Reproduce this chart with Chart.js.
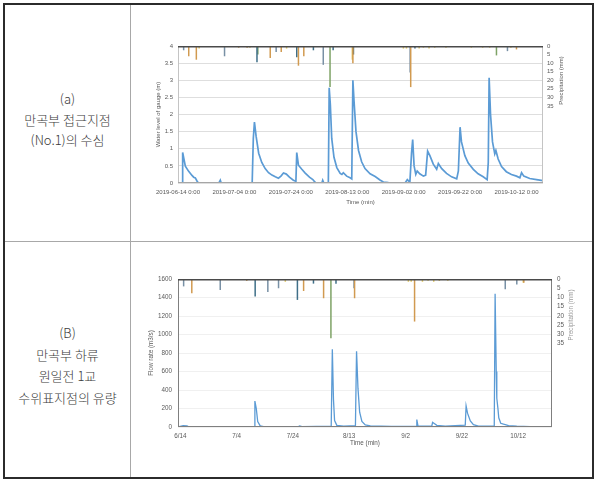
<!DOCTYPE html>
<html><head><meta charset="utf-8">
<script src="https://cdn.jsdelivr.net/npm/chart.js@4/dist/chart.umd.min.js"></script>
<style>
html,body{margin:0;padding:0;background:#fff;}
body{width:600px;height:486px;position:relative;overflow:hidden;font-family:"Noto Sans CJK KR","Noto Sans",sans-serif;}
#frame{position:absolute;left:3px;top:3px;width:587px;height:472px;border:2px solid #2b2b2b;}
.vline{position:absolute;left:130px;top:5px;width:1px;height:472px;background:#a8a8a8;}
.hline{position:absolute;left:5px;top:241px;width:587px;height:1px;background:#a8a8a8;}
.lbl{position:absolute;left:5px;width:125px;text-align:center;font-size:13px;color:#3a3a3a;font-weight:300;}
.cv{position:absolute;left:131px;}
</style></head>
<body>
<div id="frame"></div>
<div class="vline"></div>
<div class="hline"></div>
<div class="lbl" style="top:89px;line-height:20.5px;">(a)<br>만곡부 접근지점<br>(No.1)의 수심</div>
<div class="lbl" style="top:322px;line-height:21.7px;">(B)<br>만곡부 하류<br>원일전 1교<br>수위표지점의 유량</div>
<canvas id="ca" class="cv" style="top:5px" width="461" height="236"></canvas>
<canvas id="cb" class="cv" style="top:243px" width="461" height="234"></canvas>
<script>
// ---- x-axis ticks (days after 2019-06-14 0:00) ----
const tickDays = [0, 20, 40, 60, 80, 100, 120];
const tickLabelsA = ['2019-06-14 0:00','2019-07-04 0:00','2019-07-24 0:00','2019-08-13 0:00','2019-09-02 0:00','2019-09-22 0:00','2019-10-12 0:00'];
const tickLabelsB = ['6/14','7/4','7/24','8/13','9/2','9/22','10/12'];

// ---- (a) water level of gauge (m) ----
const levelDays = [0,1.42,1.65,2.6,3.78,4.96,5.55,6.14,6.73,7.2,14.5,15.0,15.3,26.3,26.7,27.1,27.7,28.6,29.7,30.9,32.1,33.3,34.5,35.6,36.5,37.4,38.4,39.5,40.9,41.8,42.1,42.7,43.9,45.1,46.6,47.8,48.6,49.0,51.0,51.3,51.7,53.3,53.6,54.0,54.5,55.3,56.3,57.5,58.1,58.6,59.8,61.0,61.6,62.0,62.4,63.1,64.0,65.1,66.3,68.1,69.9,71.6,72.8,74.6,77.5,80.5,81.3,82.2,82.8,83.2,83.7,84.3,84.8,85.7,87.0,87.8,88.5,89.3,90.5,91.7,92.3,93.5,95.2,97.0,98.8,99.4,100.0,100.5,101.7,102.9,104.7,106.4,108.2,109.6,110.0,110.3,110.8,111.5,112.3,112.7,113.5,114.7,116.4,118.2,120.0,121.2,121.8,122.6,124.7,127.1,129.4];
const levelValues = [0,0,0.89,0.49,0.34,0.22,0.17,0.15,0.06,0,0,0.08,0,0,1.3,1.78,1.36,0.87,0.6,0.42,0.3,0.23,0.18,0.14,0.2,0.29,0.26,0.17,0.08,0.05,0.89,0.52,0.4,0.29,0.17,0.1,0.02,0,0,0.08,0,0,2.78,2.3,1.3,0.75,0.45,0.28,0.25,0.3,0.2,0.15,0.12,3.0,2.4,1.5,0.95,0.62,0.42,0.27,0.19,0.09,0.03,0.01,0,0,0.1,0.02,0.88,1.27,0.5,0.25,0.35,0.27,0.2,0.23,0.93,0.8,0.55,0.4,0.57,0.42,0.28,0.18,0.12,0.35,1.63,1.2,0.8,0.58,0.4,0.27,0.18,0.1,0.6,3.07,2.0,1.2,0.85,0.95,0.7,0.48,0.33,0.25,0.2,0.15,0.3,0.2,0.13,0.1,0.07];

// ---- (b) flow rate (m3/s) ----
const flowDays = [-0.8,1.0,2.4,3.0,26.3,26.5,27.0,27.5,28.4,29.6,42.0,42.4,43.2,53.6,54.0,54.4,54.8,55.6,58,62.2,62.6,63.1,63.7,64.5,65.7,67.5,75,83.8,84.0,84.4,89.3,89.6,90.2,91.1,94.1,101.2,101.5,102.0,103.0,104.1,105.9,111.5,111.8,112.2,112.4,112.8,113.1,113.8,114.8,116.6,119.5,124.3,132];
const flowValues = [2,15,12,3,3,280,200,60,12,4,4,12,4,8,840,300,70,18,8,15,820,420,160,60,22,12,6,6,80,12,8,50,38,18,10,20,228,150,65,25,10,12,1440,600,310,200,100,40,30,15,10,5,3];

// ---- precipitation (mm), chart (a) ----
const rainA_tanDays = [3.8,6.5,21.5,24.5,32.7,36.6,42.7,44.6,62.0,82.5,120.0];
const rainA_tanMm   = [6,8,1,1,7,3.5,11.5,6,10,24,2];
const rainA_slateDays = [2.0,16.5,34.8,51.5,82.3,116.8];
const rainA_slateMm   = [2.5,6,3.5,11,15.5,3];
const rainA_tealDays = [28.0,42.1,48.0,55.0,62.2,84.0];
const rainA_tealMm   = [9.5,6.5,2.5,2.5,5,1.5];
const rainA_greenDays = [28.3,53.9,112.9];
const rainA_greenMm   = [5,24,5.5];
const rainA_yellowDays = [7.5,25.5,38.5,61.8,79.9,81.0,85.5,87,89,91,95,104,108,110.5,118];
const rainA_yellowMm   = [1.5,1,1.5,8,1.5,1.5,1.5,1,1.5,1,1,1,1,1,1];

// ---- precipitation (mm), chart (b) ----
const rainB_tanDays = [4.1,23.6,43.8,50.9,61.9,83.2,122];
const rainB_tanMm   = [7.7,1,6.5,10.4,10.4,23,2];
const rainB_slateDays = [1.2,14.2,31.1,34.9,61.7,115.4,119.5];
const rainB_slateMm   = [4,6,7,5,5,5.5,3];
const rainB_tealDays = [26.6,41.6,47.3,55.3];
const rainB_tealMm   = [9.5,11.3,2.5,2.5];
const rainB_greenDays = [53.5];
const rainB_greenMm   = [32];
const rainB_yellowDays = [37.3,81,82,86,88,90,92,95,121.8];
const rainB_yellowMm   = [1.5,1.5,1.5,1.5,1,1.5,1,1,2];

const pts = (xs, ys) => xs.map((x, i) => ({x: x, y: ys[i]}));
const rainColors = {tan:'#d19a50', slate:'#7890a5', teal:'#3f6f88', green:'#7ea366', yellow:'#e2c862'};

function rainSets(p) {
  return [
    ['tan', p.tanDays, p.tanMm], ['slate', p.slateDays, p.slateMm], ['teal', p.tealDays, p.tealMm],
    ['green', p.greenDays, p.greenMm], ['yellow', p.yellowDays, p.yellowMm]
  ].map(([c, d, m]) => ({
    type: 'bar', label: 'rain-' + c, data: pts(d, m), yAxisID: 'y2', xAxisID: 'x',
    backgroundColor: rainColors[c], borderWidth: 0, maxBarThickness: 1.5,
    barPercentage: 10, categoryPercentage: 1, grouped: false, order: 2
  }));
}

const plotFrame = {
  id: 'plotFrame',
  afterDatasetsDraw(chart, args, o) {
    const {ctx, chartArea: a} = chart;
    ctx.save();
    ctx.lineWidth = 1;
    ctx.strokeStyle = o.side;
    ctx.beginPath();
    ctx.moveTo(a.left + 0.5, a.top); ctx.lineTo(a.left + 0.5, a.bottom);
    ctx.moveTo(a.right - 0.5, a.top); ctx.lineTo(a.right - 0.5, a.bottom);
    ctx.stroke();
    ctx.strokeStyle = o.bottom;
    ctx.beginPath(); ctx.moveTo(a.left, a.bottom - 0.5); ctx.lineTo(a.right, a.bottom - 0.5); ctx.stroke();
    ctx.strokeStyle = o.top; ctx.lineWidth = 1.5;
    ctx.beginPath(); ctx.moveTo(a.left, a.top + 0.75); ctx.lineTo(a.right, a.top + 0.75); ctx.stroke();
    ctx.restore();
  }
};
const sideTitle = {
  id: 'sideTitle',
  afterDraw(chart, args, o) {
    const ctx = chart.ctx;
    ctx.save();
    ctx.translate(o.x, o.y);
    ctx.rotate(-Math.PI / 2);
    ctx.font = o.font; ctx.fillStyle = o.color;
    ctx.textAlign = 'center'; ctx.textBaseline = 'middle';
    ctx.fillText(o.text, 0, 0);
    ctx.restore();
  }
};

function build(id, cfg) {
  const font = {family: 'Liberation Sans, Arial, sans-serif', size: cfg.fontSize};
  const tc = '#595959';
  new Chart(document.getElementById(id), {
    type: 'line',
    data: {
      datasets: [{
        type: 'line', label: cfg.lineLabel, data: cfg.lineData, yAxisID: 'y', xAxisID: 'x',
        borderColor: '#5b9bd5', borderWidth: cfg.lineWidth, pointRadius: 0, tension: 0, fill: false, order: 0
      }].concat(cfg.rain)
    },
    options: {
      responsive: false, animation: false, events: [],
      layout: {padding: {top: cfg.top, left: 0, right: 0, bottom: 0}},
      plugins: {legend: {display: false}, tooltip: {enabled: false},
        plotFrame: cfg.frame,
        sideTitle: {text: 'Precipitation (mm)', x: cfg.rtX, y: cfg.rtY, color: cfg.rtColor, font: cfg.fontSize + 'px Liberation Sans, Arial, sans-serif'}},
      scales: {
        x: {
          type: 'linear', position: 'bottom', min: cfg.xMin, max: cfg.xMax, offset: false,
          afterBuildTicks: s => { s.ticks = tickDays.map(v => ({value: v})); },
          afterFit: s => { s.height = cfg.xH; },
          grid: {display: false, drawTicks: false}, border: {display: false},
          ticks: {font, color: tc, padding: cfg.xPad, maxRotation: 0, autoSkip: false,
            callback: v => cfg.xLabels[tickDays.indexOf(v)] || ''},
          title: {display: true, text: 'Time (min)', font, color: tc, padding: {top: 0, bottom: cfg.xTitlePad}}
        },
        y: {
          type: 'linear', position: 'left', min: 0, max: cfg.yMax,
          afterFit: s => { s.width = cfg.yW; },
          grid: {color: cfg.gridColor, drawTicks: false, lineWidth: 1}, border: {display: false},
          ticks: {font, color: tc, padding: cfg.yPad, stepSize: cfg.yStep, callback: v => String(v)},
          title: {display: true, text: cfg.yTitle, font, color: tc, padding: {top: cfg.yTitlePad, bottom: 0}}
        },
        y2: {
          type: 'linear', position: 'right', min: 0, max: 80, reverse: true,
          afterFit: s => { s.width = cfg.y2W; },
          grid: {display: false, drawTicks: false}, border: {display: false},
          ticks: {font, color: tc, padding: cfg.y2Pad, stepSize: 5, autoSkip: false,
            callback: v => (v <= 35 ? String(v) : '')}
        }
      }
    },
    plugins: [plotFrame, sideTitle]
  });
}

build('ca', {
  fontSize: 6, lineWidth: 1.7, lineLabel: 'Water level', lineData: pts(levelDays, levelValues),
  rain: rainSets({tanDays: rainA_tanDays, tanMm: rainA_tanMm, slateDays: rainA_slateDays, slateMm: rainA_slateMm,
    tealDays: rainA_tealDays, tealMm: rainA_tealMm, greenDays: rainA_greenDays, greenMm: rainA_greenMm,
    yellowDays: rainA_yellowDays, yellowMm: rainA_yellowMm}),
  top: 41, xMin: 0, xMax: 129.4, xH: 58, xPad: 6, xTitlePad: 35, xLabels: tickLabelsA,
  yMax: 4, yStep: 0.5, yW: 47, yPad: 5, yTitle: 'Water level of gauge (m)', yTitlePad: 24,
  y2W: 49, y2Pad: 4, gridColor: '#dedede',
  frame: {side: '#c4c4c4', bottom: '#a6a6a6', top: '#4a4a4a'},
  rtX: 430.7, rtY: 75.5, rtColor: '#595959'
});

build('cb', {
  fontSize: 6.3, lineWidth: 1.3, lineLabel: 'Flow rate', lineData: pts(flowDays, flowValues),
  rain: rainSets({tanDays: rainB_tanDays, tanMm: rainB_tanMm, slateDays: rainB_slateDays, slateMm: rainB_slateMm,
    tealDays: rainB_tealDays, tealMm: rainB_tealMm, greenDays: rainB_greenDays, greenMm: rainB_greenMm,
    yellowDays: rainB_yellowDays, yellowMm: rainB_yellowMm}),
  top: 36, xMin: -0.8, xMax: 132, xH: 50, xPad: 5, xTitlePad: 30, xLabels: tickLabelsB,
  yMax: 1600, yStep: 200, yW: 47, yPad: 6, yTitle: 'Flow rate (m3/s)', yTitlePad: 16,
  y2W: 40, y2Pad: 5, gridColor: '#f0f0f0',
  frame: {side: '#7f7f7f', bottom: '#7f7f7f', top: '#4a4a4a'},
  rtX: 440, rtY: 72, rtColor: '#9a9a9a'
});
</script>
</body></html>
